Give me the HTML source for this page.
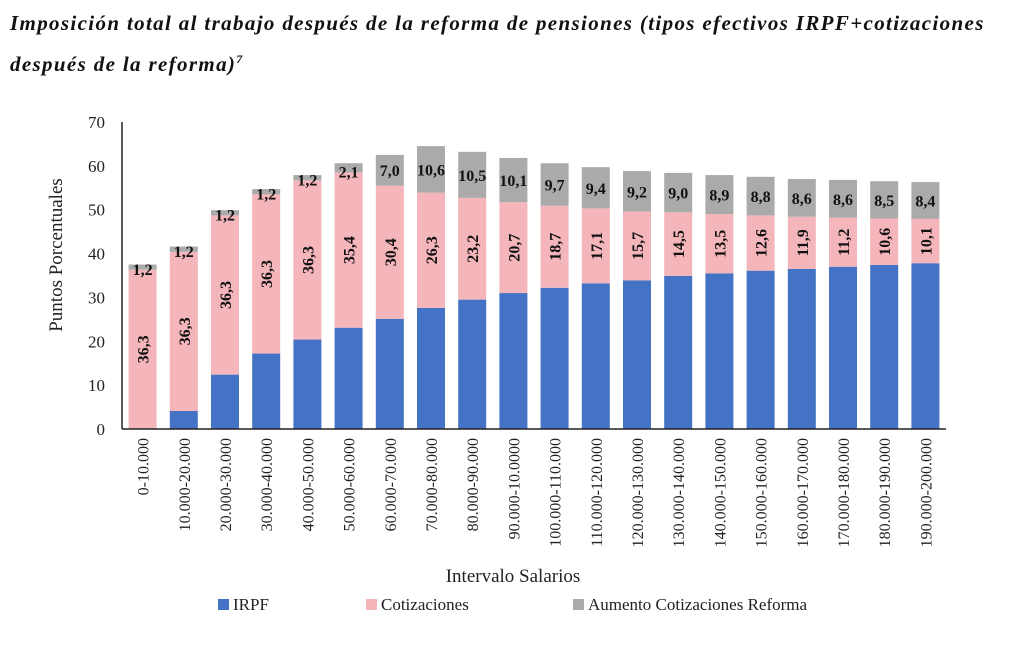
<!DOCTYPE html>
<html><head><meta charset="utf-8"><style>
body{margin:0;background:#fff;width:1009px;height:653px;overflow:hidden;font-family:"Liberation Serif",serif}
.t{position:absolute;font-weight:bold;font-style:italic;font-size:21px;color:#111;letter-spacing:1.35px;white-space:nowrap}
</style></head><body>
<div class="t" style="top:5px;left:10px;line-height:36px">Imposición total al trabajo después de la reforma de pensiones (tipos efectivos IRPF+cotizaciones<br>después de la reforma)<sup style="font-size:12px">7</sup></div>
<svg id="c" width="1009" height="653" style="position:absolute;left:0;top:0"></svg>
<script>
const cats=["0-10.000","10.000-20.000","20.000-30.000","30.000-40.000","40.000-50.000","50.000-60.000","60.000-70.000","70.000-80.000","80.000-90.000","90.000-10.0000","100.000-110.000","110.000-120.000","120.000-130.000","130.000-140.000","140.000-150.000","150.000-160.000","160.000-170.000","170.000-180.000","180.000-190.000","190.000-200.000"];
const irpf=[0,4.1,12.4,17.2,20.4,23.1,25.1,27.6,29.5,31,32.2,33.2,33.9,34.9,35.5,36.1,36.5,37,37.4,37.8];
const cotiz=[36.3,36.3,36.3,36.3,36.3,35.4,30.4,26.3,23.2,20.7,18.7,17.1,15.7,14.5,13.5,12.6,11.9,11.2,10.6,10.1];
const aumento=[1.2,1.2,1.2,1.2,1.2,2.1,7.0,10.6,10.5,10.1,9.7,9.4,9.2,9.0,8.9,8.8,8.6,8.6,8.5,8.4];
const yTicks=[0,10,20,30,40,50,60,70];
</script>
<script>
(function(){
const svg=document.getElementById('c');const NS="http://www.w3.org/2000/svg";
const n=cats.length;
const X0=122,X1=946,Y0=429,Y1=122;
const y=v=>Y0-(v/70)*(Y0-Y1);
const step=(X1-X0)/n;
const xc=i=>X0+step*(i+0.5);
const BW=28;
function el(t,a,txt){const e=document.createElementNS(NS,t);for(const k in a)e.setAttribute(k,a[k]);if(txt!==undefined)e.textContent=txt;svg.appendChild(e);return e;}
yTicks.forEach(v=>{const e=el('text',{x:105,y:y(v)+6,'text-anchor':'end','font-size':17,fill:'#222'},v);

});
for(let i=0;i<n;i++){
 const cx=xc(i),x=cx-BW/2;
 const a=irpf[i],b=cotiz[i],c=aumento[i];
 let r=el('rect',{x:x,y:y(a),width:BW,height:y(0)-y(a),fill:'#4472c4'});
 
 
 r=el('rect',{x:x,y:y(a+b),width:BW,height:y(a)-y(a+b),fill:'#f4b5bb'});
 
 
 r=el('rect',{x:x,y:y(a+b+c),width:BW,height:y(a+b)-y(a+b+c),fill:'#aaaaaa'});
 
 
 const my=(y(a)+y(a+b))/2;
 let t=el('text',{x:cx,y:my+6,'text-anchor':'middle','font-size':16,'font-weight':'bold',fill:'#111',transform:`rotate(-90 ${cx} ${my})`},b.toFixed(1).replace('.',','));
 
 
 const gy=c<3?y(a+b)+5:(y(a+b)+y(a+b+c))/2+6;
 t=el('text',{x:cx,y:gy,'text-anchor':'middle','font-size':16,'font-weight':'bold',fill:'#111'},c.toFixed(1).replace('.',','));
 
 
}
for(let i=0;i<n;i++){const cx=xc(i)+6;
 const t=el('text',{x:cx,y:438,'text-anchor':'end','font-size':16,fill:'#222',transform:`rotate(-90 ${cx} 438)`},cats[i]);
 
 }
let a=el('line',{x1:X0,y1:Y0,x2:X1,y2:Y0,stroke:'#222','stroke-width':1.5});
a=el('line',{x1:X0,y1:Y1,x2:X0,y2:Y0,stroke:'#222','stroke-width':1.5});
a=el('text',{x:62,y:255,'text-anchor':'middle','font-size':19,fill:'#222',transform:'rotate(-90 62 255)'},'Puntos Porcentuales');
a=el('text',{x:513,y:582,'text-anchor':'middle','font-size':19,fill:'#222'},'Intervalo Salarios');
[[218,'#4472c4','IRPF'],[366,'#f4b5bb','Cotizaciones'],[573,'#aaaaaa','Aumento Cotizaciones Reforma']].forEach((l,i)=>{
 let r=el('rect',{x:l[0],y:599,width:11,height:11,fill:l[1]});
 let t=el('text',{x:l[0]+15,y:610,'font-size':17,fill:'#222'},l[2]);
});
})();
</script>
</body></html>
